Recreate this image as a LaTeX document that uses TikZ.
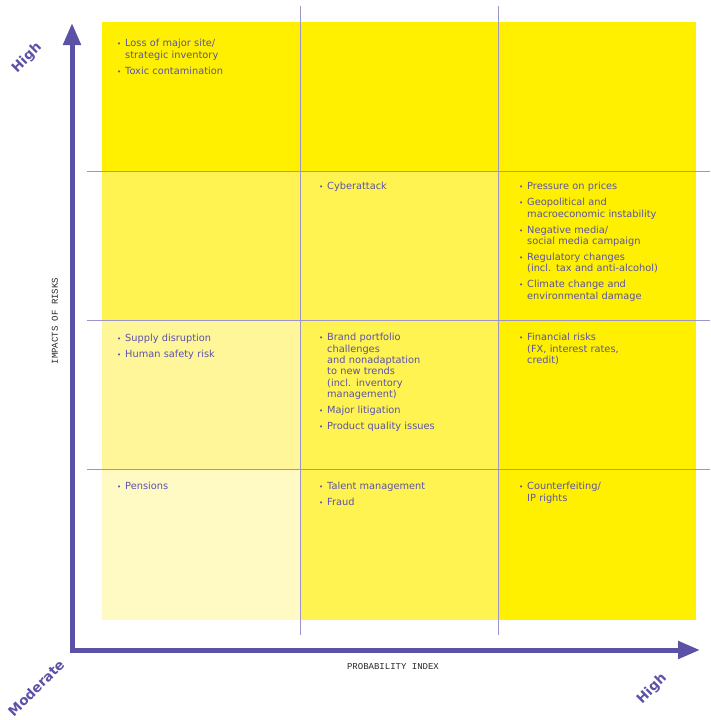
\documentclass[tikz,border=0pt]{standalone}
\usepackage{fontspec}
\setmainfont{DejaVu Sans}
\setmonofont{Liberation Mono}
\usepackage{enumitem}
\usepackage{tikz}
\usetikzlibrary{arrows.meta}

\definecolor{axisblue}{HTML}{5B52A8}
\definecolor{gridline}{HTML}{9C95CC}
\definecolor{yellowA}{HTML}{FFF000}
\definecolor{yellowB}{HTML}{FFF352}
\definecolor{yellowC}{HTML}{FFF699}
\definecolor{yellowD}{HTML}{FFF9C4}

\setlist[itemize]{label={\scriptsize\textbullet}, leftmargin=8pt, labelwidth=5pt, labelsep=3pt, align=left, topsep=0pt, partopsep=0pt, parsep=0pt, itemsep=4.6pt}

\tikzset{
    axisline/.style={line width=5pt, draw=axisblue, line join=miter,
        {Triangle[length=22pt,width=17pt]}-{Triangle[length=22pt,width=17pt]}},
    gridrule/.style={draw=gridline, line width=0.8pt},
    risklist/.style={anchor=north west, inner sep=0pt, text width=180pt, align=left,
        text=axisblue, font=\fontsize{9.8}{11.4}\selectfont},
    axistext/.style={inner sep=0pt, text=black!85, font=\ttfamily\fontsize{9}{9}\selectfont},
    levellabel/.style={inner sep=0pt, rotate=45, text=axisblue, font=\bfseries\fontsize{13.5}{13.5}\selectfont}
}

\begin{document}
\begin{tikzpicture}[x=1pt, y=-1pt]
        \useasboundingbox (0,0) rectangle (710,720);

        % cells
        \fill[yellowA] (102,22) rectangle (696,620);
        \fill[yellowB] (102,171) rectangle (498,620);
        \fill[yellowC] (102,320) rectangle (300,469);
        \fill[yellowD] (102,469) rectangle (300,620);

        % grid
        \draw[gridrule] (300,6) -- (300,635);
        \draw[gridrule] (498,6) -- (498,635);
        \draw[gridrule] (87,171) -- (710,171);
        \draw[gridrule] (87,320) -- (710,320);
        \draw[gridrule] (87,469) -- (710,469);

        % axes
        \coordinate (ytop) at (72,23);
        \coordinate (origin) at (72,650);
        \coordinate (xend) at (700,650);
        \draw[axisline] (ytop) -- (origin) -- (xend);

        \node[axistext, rotate=90] (ylabel) at (55,321) {IMPACTS OF RISKS};
        \node[axistext] (xlabel) at (393,667) {PROBABILITY INDEX};
        \node[levellabel] (yhigh) at (27,58) {High};
        \node[levellabel] (xmoderate) at (36,688) {Moderate};
        \node[levellabel] (xhigh) at (652,689) {High};

        % risks
        \node[risklist] (c11) at (117,35) {\begin{itemize}
            \item Loss of major site/\\strategic inventory
            \item Toxic contamination
        \end{itemize}};
        \node[risklist] (c22) at (319,178) {\begin{itemize}
            \item Cyberattack
        \end{itemize}};
        \node[risklist] (c23) at (519,178) {\begin{itemize}
            \item Pressure on prices
            \item Geopolitical and\\macroeconomic instability
            \item Negative media/\\social media campaign
            \item Regulatory changes\\(incl. tax and anti-alcohol)
            \item Climate change and\\environmental damage
        \end{itemize}};
        \node[risklist] (c31) at (117,330) {\begin{itemize}
            \item Supply disruption
            \item Human safety risk
        \end{itemize}};
        \node[risklist] (c32) at (319,329) {\begin{itemize}
            \item Brand portfolio\\challenges\\and nonadaptation\\to new trends\\(incl. inventory\\management)
            \item Major litigation
            \item Product quality issues
        \end{itemize}};
        \node[risklist] (c33) at (519,329) {\begin{itemize}
            \item Financial risks\\(FX, interest rates,\\credit)
        \end{itemize}};
        \node[risklist] (c41) at (117,478) {\begin{itemize}
            \item Pensions
        \end{itemize}};
        \node[risklist] (c42) at (319,478) {\begin{itemize}
            \item Talent management
            \item Fraud
        \end{itemize}};
        \node[risklist] (c43) at (519,478) {\begin{itemize}
            \item Counterfeiting/\\IP rights
        \end{itemize}};
    \end{tikzpicture}
\end{document}
